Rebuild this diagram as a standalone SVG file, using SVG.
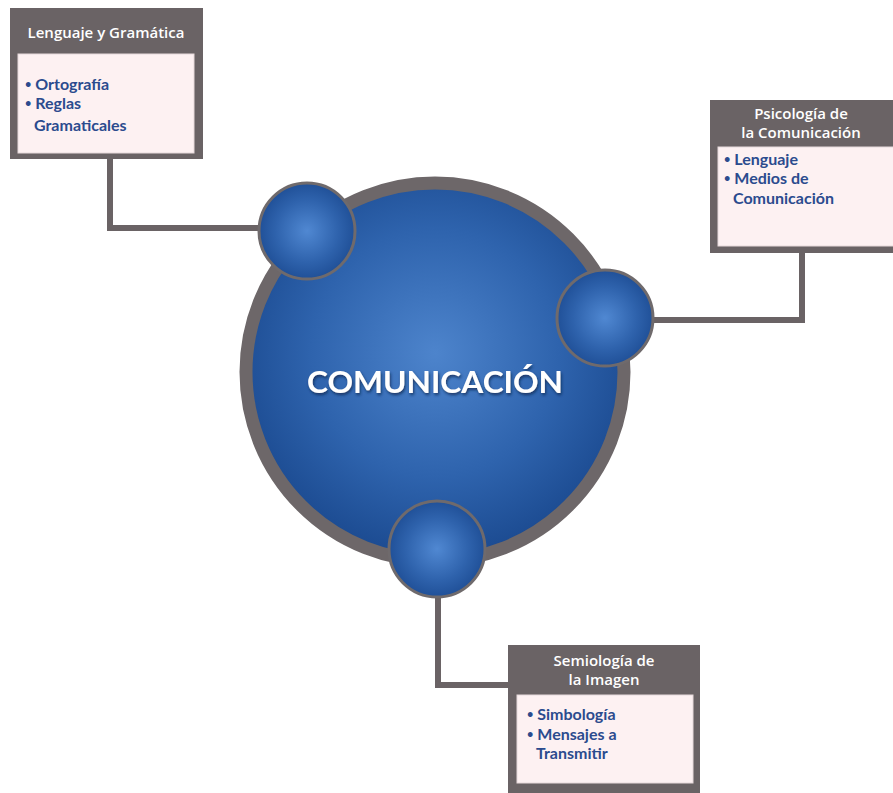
<svg xmlns="http://www.w3.org/2000/svg" width="893" height="793" viewBox="0 0 893 793">
<defs>
<radialGradient id="gBig" cx="0.5" cy="0.45" r="0.55">
<stop offset="0" stop-color="#4d84cc"/>
<stop offset="0.6" stop-color="#2e63ad"/>
<stop offset="1" stop-color="#1b4a90"/>
</radialGradient>
<radialGradient id="gSmall" cx="0.5" cy="0.5" r="0.55">
<stop offset="0" stop-color="#5088d2"/>
<stop offset="0.6" stop-color="#2e62ac"/>
<stop offset="1" stop-color="#1c4b92"/>
</radialGradient>
<filter id="shadow" x="-10%" y="-30%" width="120%" height="160%">
<feDropShadow dx="1" dy="2" stdDeviation="1.5" flood-color="#0c2550" flood-opacity="0.8"/>
</filter>
</defs>
<style>
.frame{fill:#6a6365;}
.inner{fill:#fdf1f2;stroke:#e6d9db;stroke-width:1;}
.title{font-family:"Open Sans","Liberation Sans",sans-serif;font-size:15px;font-weight:600;fill:#ffffff;text-anchor:middle;}
.item{font-family:Lato,"Liberation Sans",sans-serif;font-size:16px;font-weight:bold;fill:#2b4b8e;}
.dot{font-size:11px;}
.conn{fill:none;stroke:#6a6365;stroke-width:6;}
.small{fill:url(#gSmall);stroke:#6f6a6c;stroke-width:3;}
.main{font-family:Lato,"Liberation Sans",sans-serif;font-size:30px;font-weight:bold;fill:#ffffff;text-anchor:middle;}
</style>
<rect width="893" height="793" fill="#ffffff"/>
<g id="connectors">
<polyline class="conn" points="110,158 110,228 262,228"/>
<polyline class="conn" points="652,320 802,320 802,252"/>
<polyline class="conn" points="438,596 438,685 510,685"/>
</g>
<g id="center">
<circle cx="435" cy="372" r="189" fill="url(#gBig)" stroke="#6d6769" stroke-width="13"/>
<text class="main" x="435" y="393" textLength="256" lengthAdjust="spacingAndGlyphs" filter="url(#shadow)">COMUNICACIÓN</text>
</g>
<g id="bubble-left"><circle class="small" cx="307" cy="231" r="48"/></g>
<g id="bubble-right"><circle class="small" cx="605" cy="318" r="48"/></g>
<g id="bubble-bottom"><circle class="small" cx="437" cy="549" r="48"/></g>
<g id="box-lenguaje">
<rect class="frame" x="10" y="8" width="193" height="151"/>
<rect class="inner" x="18" y="54" width="176" height="99"/>
<text class="title" x="106" y="38">Lenguaje y Gramática</text>
<text class="item" x="25" y="90"><tspan class="dot" dy="-2.5">•</tspan><tspan dy="2.5"> Ortografía</tspan></text>
<text class="item" x="25" y="109"><tspan class="dot" dy="-2.5">•</tspan><tspan dy="2.5"> Reglas</tspan></text>
<text class="item" x="34" y="131">Gramaticales</text>
</g>
<g id="box-psicologia">
<rect class="frame" x="710" y="100" width="185" height="153"/>
<rect class="inner" x="718" y="147" width="177" height="99"/>
<text class="title" x="801" y="119">Psicología de</text>
<text class="title" x="801" y="138">la Comunicación</text>
<text class="item" x="724" y="165"><tspan class="dot" dy="-2.5">•</tspan><tspan dy="2.5"> Lenguaje</tspan></text>
<text class="item" x="724" y="184"><tspan class="dot" dy="-2.5">•</tspan><tspan dy="2.5"> Medios de</tspan></text>
<text class="item" x="733" y="204">Comunicación</text>
</g>
<g id="box-semiologia">
<rect class="frame" x="508" y="645" width="192" height="150"/>
<rect class="inner" x="517" y="695" width="176" height="88"/>
<text class="title" x="604" y="666">Semiología de</text>
<text class="title" x="604" y="685">la Imagen</text>
<text class="item" x="527" y="720"><tspan class="dot" dy="-2.5">•</tspan><tspan dy="2.5"> Simbología</tspan></text>
<text class="item" x="527" y="740"><tspan class="dot" dy="-2.5">•</tspan><tspan dy="2.5"> Mensajes a</tspan></text>
<text class="item" x="536" y="759">Transmitir</text>
</g>
</svg>
